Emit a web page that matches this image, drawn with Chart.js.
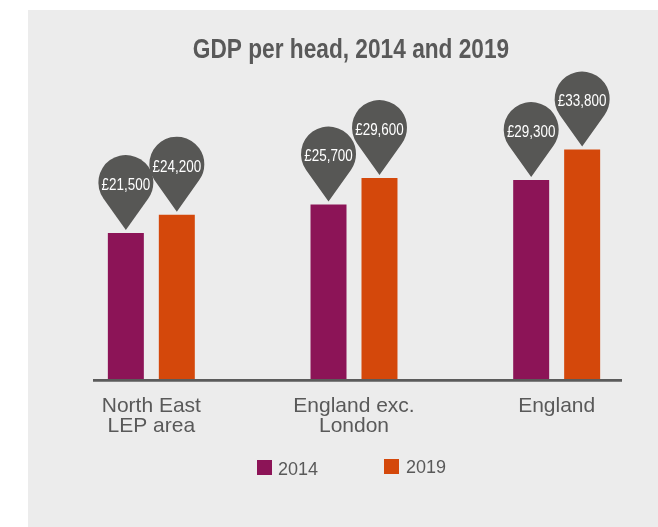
<!DOCTYPE html>
<html>
<head>
<meta charset="utf-8">
<script src="https://cdn.jsdelivr.net/npm/chart.js@4.4.1/dist/chart.umd.min.js"></script>
<style>
  html, body { margin: 0; padding: 0; background: #ffffff; overflow: hidden; }
  #wrap { position: relative; width: 658px; height: 527px; }
</style>
</head>
<body>
<div id="wrap"><canvas id="chart" width="658" height="527"></canvas></div>
<script>
// Regions shown along the x axis (multi-line labels as arrays)
const categories = [["North East", "LEP area"], ["England exc.", "London"], "England"];
// GDP per head, £
const gdp2014 = [21500, 25700, 29300];
const gdp2019 = [24200, 29600, 33800];
const seriesNames = ["2014", "2019"];
const chartTitle = "GDP per head, 2014 and 2019";

const PURPLE = "#8c1457";
const ORANGE = "#d4480b";
const INK = "#595959";
const PIN = "#575755";
const SANS = '"Liberation Sans", Arial, sans-serif';

// Light grey card behind the whole chart
const panelPlugin = {
  id: "panel",
  beforeDraw(chart) {
    const ctx = chart.ctx;
    ctx.save();
    ctx.fillStyle = "#ececec";
    ctx.fillRect(28, 10, chart.width - 28, chart.height - 10);
    ctx.restore();
  }
};

// Condensed bold heading
const headingPlugin = {
  id: "heading",
  afterDraw(chart) {
    const ctx = chart.ctx;
    ctx.save();
    ctx.translate(351, 58.3);
    ctx.scale(0.81, 1);
    ctx.fillStyle = INK;
    ctx.font = "bold 28px " + SANS;
    ctx.textAlign = "center";
    ctx.textBaseline = "alphabetic";
    ctx.fillText(chartTitle, 0, 0);
    ctx.restore();
  }
};

// Dark baseline under the bars
const baselinePlugin = {
  id: "baseline",
  afterDatasetsDraw(chart) {
    const ctx = chart.ctx;
    const y = chart.scales.y.getPixelForValue(0) + 1.3;
    ctx.save();
    ctx.strokeStyle = "#5b5b5b";
    ctx.lineWidth = 2.7;
    ctx.beginPath();
    ctx.moveTo(93, y);
    ctx.lineTo(622, y);
    ctx.stroke();
    ctx.restore();
  }
};

// Map-pin callouts holding each bar's value
const pinPlugin = {
  id: "pins",
  afterDatasetsDraw(chart) {
    const ctx = chart.ctx;
    const r = 27.5, d = 47.5, gap = 3;
    const a = Math.acos(r / d);
    chart.data.datasets.forEach((ds, di) => {
      const meta = chart.getDatasetMeta(di);
      meta.data.forEach((bar, i) => {
        const tipY = bar.y - gap;
        const cx = bar.x, cy = tipY - d;
        ctx.save();
        ctx.beginPath();
        ctx.arc(cx, cy, r, Math.PI / 2 + a, Math.PI * 2.5 - a, false);
        ctx.lineTo(cx, tipY);
        ctx.closePath();
        ctx.fillStyle = PIN;
        ctx.fill();
        ctx.translate(cx, cy + 3);
        ctx.scale(0.84, 1);
        ctx.fillStyle = "#ffffff";
        ctx.font = "16px " + SANS;
        ctx.textAlign = "center";
        ctx.textBaseline = "middle";
        ctx.fillText("£" + ds.data[i].toLocaleString("en-GB"), 0, 0);
        ctx.restore();
      });
    });
  }
};

// Series key below the axis labels
const keyPlugin = {
  id: "key",
  afterDraw(chart) {
    const ctx = chart.ctx;
    const items = [
      { box: 257, text: 278, top: 460, base: 475 },
      { box: 384, text: 406, top: 459, base: 473 }
    ];
    ctx.save();
    ctx.font = "18px " + SANS;
    ctx.textAlign = "left";
    ctx.textBaseline = "alphabetic";
    chart.data.datasets.forEach((ds, i) => {
      const it = items[i];
      ctx.fillStyle = ds.backgroundColor;
      ctx.fillRect(it.box, it.top, 15, 15);
      ctx.fillStyle = INK;
      ctx.fillText(ds.label, it.text, it.base);
    });
    ctx.restore();
  }
};

new Chart(document.getElementById("chart"), {
  type: "bar",
  data: {
    labels: categories,
    datasets: [
      { label: seriesNames[0], data: gdp2014, backgroundColor: PURPLE },
      { label: seriesNames[1], data: gdp2019, backgroundColor: ORANGE }
    ]
  },
  options: {
    responsive: false,
    animation: false,
    devicePixelRatio: 1,
    layout: { padding: { left: 50, right: 0, top: 107.4, bottom: 0 } },
    datasets: {
      bar: { categoryPercentage: 0.503, barPercentage: 0.706 }
    },
    scales: {
      x: {
        grid: { display: false, drawTicks: false },
        border: { display: false },
        ticks: {
          color: INK,
          padding: 16.5,
          font: { family: SANS, size: 21, lineHeight: 0.98 },
          maxRotation: 0,
          autoSkip: false
        },
        afterFit(scale) { scale.height = 148; }
      },
      y: {
        display: false,
        min: 0,
        max: 40000,
        grid: { display: false }
      }
    },
    plugins: {
      title: { display: false },
      legend: { display: false },
      tooltip: { enabled: false }
    }
  },
  plugins: [panelPlugin, baselinePlugin, pinPlugin, headingPlugin, keyPlugin]
});
</script>
</body>
</html>
